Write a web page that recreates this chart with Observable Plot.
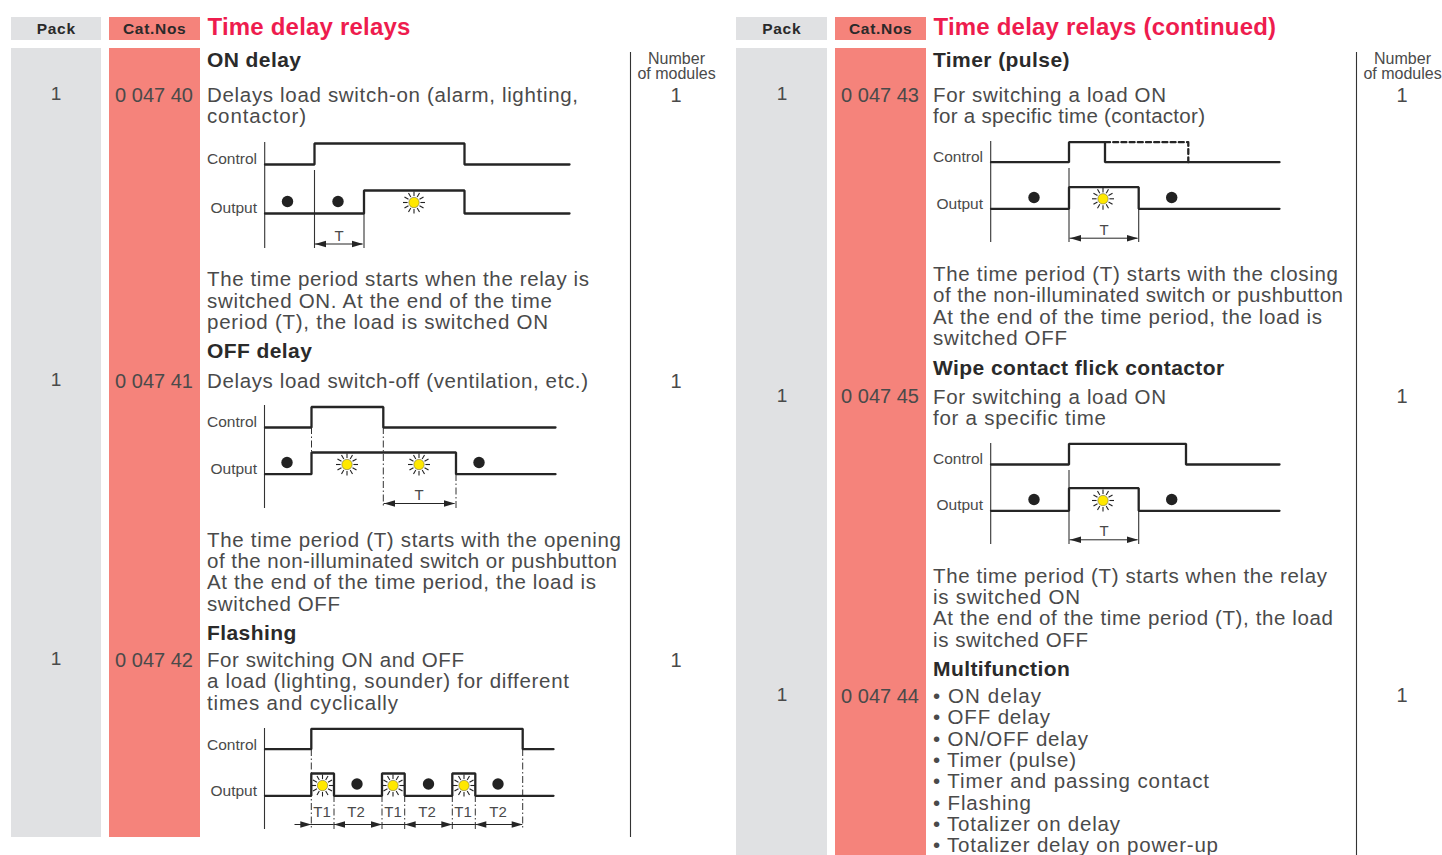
<!DOCTYPE html>
<html>
<head>
<meta charset="utf-8">
<script src="https://cdn.jsdelivr.net/npm/d3@7"></script>
<script src="https://cdn.jsdelivr.net/npm/@observablehq/plot@0.6"></script>
<style>
html,body{margin:0;padding:0;background:#fff}
svg{display:block}
.head-text text{letter-spacing:.7px}
.title-text text{letter-spacing:.2px}
.section-text text{letter-spacing:.42px}
</style>
</head>
<body>
<div id="chart"></div>
<script>
// Column bands
const bandLabels = ["Pack","Cat.Nos","Pack","Cat.Nos"];
const bandX1 = [11,109,736,835];
const bandX2 = [101,200,827,926];
const bandBottom = [837,837,855,855];
const bandColors = ["#e0e1e3","#f5837b","#e0e1e3","#f5837b"];

// Headings
const titles = ["Time delay relays","Time delay relays (continued)"];
const titleX = [208,934];

const sections = ["ON delay","OFF delay","Flashing","Timer (pulse)","Wipe contact flick contactor","Multifunction"];
const sectionX = [207.5,207.5,207.5,933.5,933.5,933.5];
const sectionY = [60,351,633,60,368,669];

// Table columns
const catNos = ["0 047 40","0 047 41","0 047 42","0 047 43","0 047 45","0 047 44"];
const catX = [154.5,154.5,154.5,880.5,880.5,880.5];
const catY = [95,381,660,95,396,696];
const packValues = [1,1,1,1,1,1];
const packX = [56.5,56.5,56.5,782.5,782.5,782.5];
const packY = [93,379,658,93,395,694];
const moduleValues = [1,1,1,1,1,1];
const moduleX = [676.5,676.5,676.5,1402.5,1402.5,1402.5];
const moduleY = [95,381,660,95,396,695];

// Body copy
const leftLines = [
  "Delays load switch-on (alarm, lighting,","contactor)",
  "The time period starts when the relay is","switched ON. At the end of the time","period (T), the load is switched ON",
  "Delays load switch-off (ventilation, etc.)",
  "The time period (T) starts with the opening","of the non-illuminated switch or pushbutton","At the end of the time period, the load is","switched OFF",
  "For switching ON and OFF","a load (lighting, sounder) for different","times and cyclically"
];
const leftLineY = [95,116,279,301,322,381,540,561,582,604,660,681,703];
const leftLineEnd = [578,306,589,552,548,588,621,617,596,340,464,569,398];
const rightLines = [
  "For switching a load ON","for a specific time (contactor)",
  "The time period (T) starts with the closing","of the non-illuminated switch or pushbutton","At the end of the time period, the load is","switched OFF",
  "For switching a load ON","for a specific time",
  "The time period (T) starts when the relay","is switched ON","At the end of the time period (T), the load","is switched OFF",
  "• ON delay","• OFF delay","• ON/OFF delay","• Timer (pulse)","• Timer and passing contact","• Flashing","• Totalizer on delay","• Totalizer delay on power-up"
];
const rightLineY = [95,116,274,295,317,338,397,418,576,597,618,640,696,717,739,760,781,803,824,845];
const rightLineEnd = [1166,1205,1338,1343,1322,1067,1166,1106,1327,1080,1333,1088,1041,1050,1088,1076,1209,1031,1120,1218];

// Waveforms (transition position, level after it)
const waves = [
  {x:[265,314.5,464.5,569.5], y:[164,143,164,164]},
  {x:[265,364,464.5,569.5], y:[213,190,213,213]},
  {x:[265,311.5,383.3,555.5], y:[427,406.5,427,427]},
  {x:[265,311.5,456,555.5], y:[473.7,452,473.7,473.7]},
  {x:[265,311.3,522.7,553.5], y:[748.7,728.3,748.7,748.7]},
  {x:[265,311.3,334,382,404.7,452.3,475.3,553.5], y:[795.3,773,795.3,773,795.3,773,795.3,795.3]},
  {x:[991,1069,1105,1279.5], y:[161.7,141.7,161.7,161.7]},
  {x:[991,1069,1138.7,1279.5], y:[208.3,186.7,208.3,208.3]},
  {x:[991,1069,1186,1279.5], y:[464,443.3,464,464]},
  {x:[991,1069,1138.7,1279.5], y:[510.3,487.7,510.3,510.3]}
];
const dashedX = [1105,1188.3,1188.3];
const dashedY = [141.7,141.7,161.7];

// Axes and time markers
const solidRuleX = [264.7,314.5,364,264.5,264.5,990.7,1069,1138.7,990.7,1069,1138.7,630.5,1356.5];
const solidRuleY1 = [142,170,213,405,728,141,168,208,443,470,510,52,52];
const solidRuleY2 = [248,248,248,508,829,242,242,242,544,544,544,837,855];
const dashRuleX = [311.5,383.3,456,311.3,334,382,404.7,452.3,475.3,522.7];
const dashRuleY1 = [427,427,474,749,795,795,795,795,795,749];
const dashRuleY2 = [452,508,508,829,829,829,829,829,829,829];

// Interval arrows
const arrowX1 = [315,384,334,404.7,475.3,1070,1070];
const arrowX2 = [363,455,382,452.3,522.7,1138,1138];
const arrowY = [243.5,503,824,824,824,237.7,539.3];
const plainSpanX1 = [295,311.3,382,452.3];
const plainSpanX2 = [311.3,334,404.7,475.3];
const singleHeadX = [311.3];
const singleHeadY = [824];

const intervalLabels = ["T","T","T1","T2","T1","T2","T1","T2","T","T"];
const intervalX = [339.5,419.5,322.5,356.5,393.5,427.5,463.5,498.5,1104.5,1104.5];
const intervalY = [236,495,812,812,812,812,812,812,230,531];

// State symbols
const offX = [287.5,338,287,479,357,428.5,498,1034,1171.7,1034,1171.7];
const offY = [201,201,462,462,783.5,783.5,783.5,197,197,499,499];
const lampX = [414,347,419,322.5,393,464,1103,1103];
const lampY = [202,464,464,785,785,785,198.3,500];

// Diagram row labels
const rowLabels = ["Control","Output","Control","Output","Control","Output","Control","Output","Control","Output"];
const rowX = [257.5,257.5,257.5,257.5,257.5,257.5,983.5,983.5,983.5,983.5];
const rowY = [159,208,422,469,745,791,157,204,459,505];

const ink = "#252525";
const textInk = "#4a4a4a";
const font = "Liberation Sans";
const zip = (o) => { const k = Object.keys(o); return o[k[0]].map((_, i) => Object.fromEntries(k.map(n => [n, o[n][i]]))); };

const bands = zip({x1:bandX1,x2:bandX2,bottom:bandBottom,fill:bandColors,label:bandLabels});
const waveRows = waves.flatMap((w,id) => w.x.map((x,i) => ({id,x,y:w.y[i]})));
const rayAngles = d3.range(12).map(i => i*Math.PI/6);
const rays = lampX.flatMap((x,i) => rayAngles.map(a => ({
  x1:x+6.4*Math.sin(a), y1:lampY[i]-6.4*Math.cos(a),
  x2:x+11*Math.sin(a), y2:lampY[i]-11*Math.cos(a)
})));
const arrows = zip({x1:arrowX1,x2:arrowX2,y:arrowY});
const heads = [
  ...arrows.map(a => ({x:a.x1,y:a.y,rotate:270})),
  ...arrows.map(a => ({x:a.x2,y:a.y,rotate:90})),
  ...singleHeadX.map((x,i) => ({x,y:singleHeadY[i],rotate:90}))
];
const headShape = {draw(c){c.moveTo(0,0);c.lineTo(-3.2,11);c.lineTo(3.2,11);c.closePath();}};
const textCommon = {fontFamily:font, lineAnchor:"middle", dx:-1};
const shift = {dx:-0.5};

const chart = Plot.plot({
  width:1442, height:855, margin:0,
  x:{domain:[0,1442],range:[0,1442],axis:null},
  y:{domain:[0,855],range:[0,855],axis:null},
  style:{background:"#fff",overflow:"visible"},
  marks:[
    Plot.rect(bands,{x1:"x1",x2:"x2",y1:17,y2:40,fill:"fill"}),
    Plot.rect(bands,{x1:"x1",x2:"x2",y1:48,y2:"bottom",fill:"fill"}),
    Plot.ruleX(zip({x:solidRuleX,y1:solidRuleY1,y2:solidRuleY2}),{...shift,x:"x",y1:"y1",y2:"y2",stroke:"#333",strokeWidth:1.1}),
    Plot.ruleX(zip({x:dashRuleX,y1:dashRuleY1,y2:dashRuleY2}),{...shift,x:"x",y1:"y1",y2:"y2",stroke:"#333",strokeWidth:1,strokeDasharray:"7,2.5,1.5,2.5"}),
    Plot.line(waveRows,{...shift,x:"x",y:"y",z:"id",curve:"step-after",stroke:ink,strokeWidth:2.3,strokeLinejoin:"miter"}),
    Plot.line(zip({x:dashedX,y:dashedY}),{...shift,x:"x",y:"y",stroke:ink,strokeWidth:2.3,strokeDasharray:"5,3.2"}),
    Plot.ruleY(arrows,{...shift,y:"y",x1:"x1",x2:"x2",stroke:ink,strokeWidth:1}),
    Plot.ruleY(zip({x1:plainSpanX1,x2:plainSpanX2,y:plainSpanX1.map(()=>824)}),{...shift,y:"y",x1:"x1",x2:"x2",stroke:ink,strokeWidth:1}),
    Plot.vector(heads,{...shift,x:"x",y:"y",rotate:"rotate",length:11,anchor:"start",shape:headShape,fill:ink,stroke:"none"}),
    Plot.dot(zip({x:offX,y:offY}),{...shift,x:"x",y:"y",r:5.7,fill:"#222",stroke:"none"}),
    Plot.link(rays,{...shift,x1:"x1",y1:"y1",x2:"x2",y2:"y2",stroke:"#222",strokeWidth:1.1}),
    Plot.dot(zip({x:lampX,y:lampY}),{...shift,x:"x",y:"y",r:5.2,fill:"#ffe800",stroke:"#555",strokeWidth:0.5}),

    Plot.text(bands,{...textCommon,x:d=>(d.x1+d.x2)/2+0.7,y:28.5,text:"label",fontSize:15.5,fontWeight:"bold",fill:"#2a2a2a",textAnchor:"middle",className:"head-text"}),
    Plot.text(zip({t:titles,x:titleX}),{...textCommon,x:"x",y:27,text:"t",fontSize:24,fontWeight:"bold",fill:"#ee1c4e",textAnchor:"start",className:"title-text"}),
    Plot.text(zip({t:sections,x:sectionX,y:sectionY}),{...textCommon,x:"x",y:"y",text:"t",fontSize:21,fontWeight:"bold",fill:"#2a2a2a",textAnchor:"start",className:"section-text"}),
    Plot.text(zip({t:leftLines,y:leftLineY}),{...textCommon,x:207.5,y:"y",text:"t",fontSize:20.5,fill:textInk,textAnchor:"start",className:"left-body"}),
    Plot.text(zip({t:rightLines,y:rightLineY}),{...textCommon,x:933.5,y:"y",text:"t",fontSize:20.5,fill:textInk,textAnchor:"start",className:"right-body"}),
    Plot.text(zip({t:catNos,x:catX,y:catY}),{...textCommon,x:"x",y:"y",text:"t",fontSize:20,fill:textInk,textAnchor:"middle"}),
    Plot.text(zip({t:packValues,x:packX,y:packY}),{...textCommon,x:"x",y:"y",text:"t",fontSize:19,fill:textInk,textAnchor:"middle"}),
    Plot.text(zip({t:moduleValues,x:moduleX,y:moduleY}),{...textCommon,x:"x",y:"y",text:"t",fontSize:20,fill:textInk,textAnchor:"middle"}),
    Plot.text(["Number","of modules","Number","of modules"],{...textCommon,x:[677,677,1403,1403],y:[58,73,58,73],text:d=>d,fontSize:16,fill:textInk,textAnchor:"middle"}),
    Plot.text(zip({t:rowLabels,x:rowX,y:rowY}),{...textCommon,x:"x",y:"y",text:"t",fontSize:15.5,fill:textInk,textAnchor:"end"}),
    Plot.text(zip({t:intervalLabels,x:intervalX,y:intervalY}),{...textCommon,x:"x",y:"y",text:"t",fontSize:15,fill:textInk,textAnchor:"middle"})
  ]
});
document.getElementById("chart").append(chart);

// Fit each body line to the width it has in the reference
const fit = (cls, start, ends) => d3.select(chart).selectAll(`.${cls} text`)
  .attr("textLength", (_, i) => ends[i] - start).attr("lengthAdjust", "spacing");
fit("left-body", 207, leftLineEnd);
fit("right-body", 933, rightLineEnd);
</script>
</body>
</html>
